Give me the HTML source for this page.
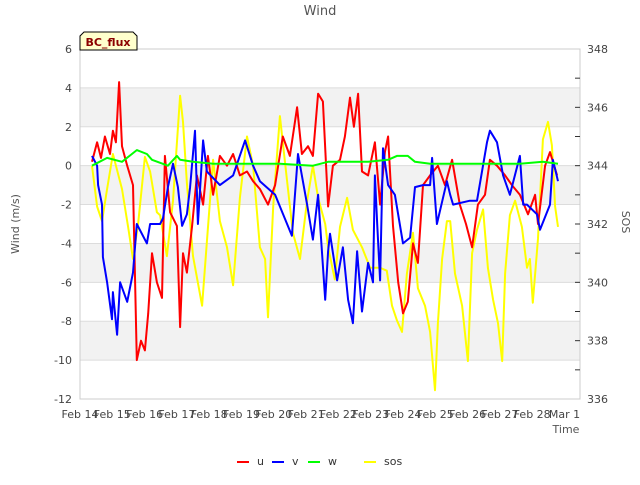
<!DOCTYPE html>
<html><head><meta charset="utf-8"><style>
body{margin:0;background:#fff;font-family:"Liberation Sans","DejaVu Sans",sans-serif}
svg text{font-family:"DejaVu Sans","Liberation Sans",sans-serif}
</style></head><body>
<svg id="chart" width="640" height="480" viewBox="0 0 640 480" xmlns="http://www.w3.org/2000/svg">
<rect width="640" height="480" fill="#fff"/>
<text x="320" y="15" text-anchor="middle" font-size="13" fill="#555">Wind</text>
<g id="bands"></g><g id="grid"></g>
<rect x="80" y="49" width="500" height="350" fill="none" stroke="#ccc"/>
<g id="series"></g><g id="axes"></g>
<g>
<path d="M80,50 L80,36 L84,32 L133,32 L137,36 L137,50 Z" fill="#ffffcc" stroke="#000" stroke-width="1"/>
<text x="108" y="46" text-anchor="middle" font-size="11" font-weight="bold" fill="#8b0000">BC_flux</text>
</g>
<text transform="translate(19,224) rotate(-90)" text-anchor="middle" font-size="11" fill="#555">Wind (m/s)</text>
<text transform="translate(622,222) rotate(90)" text-anchor="middle" font-size="11" fill="#555">SOS</text>
<text x="566" y="433" text-anchor="middle" font-size="11" fill="#555">Time</text>
<g id="legend"></g>
</svg>
<script>
const xTickLabels=["Feb 14","Feb 15","Feb 16","Feb 17","Feb 18","Feb 19","Feb 20","Feb 21","Feb 22","Feb 23","Feb 24","Feb 25","Feb 26","Feb 27","Feb 28","Mar 1"];
const yTicks=[6,4,2,0,-2,-4,-6,-8,-10,-12];
const y2Ticks=[348,346,344,342,340,338,336];
const uT=[0.37,0.53,0.65,0.77,0.93,1.02,1.11,1.21,1.30,1.46,1.64,1.76,1.89,2.01,2.11,2.23,2.38,2.54,2.63,2.79,3.00,3.10,3.19,3.31,3.47,3.62,3.81,3.96,4.12,4.33,4.55,4.74,4.95,5.17,5.36,5.57,5.82,6.04,6.28,6.50,6.72,6.87,7.06,7.21,7.37,7.52,7.68,7.83,8.05,8.20,8.36,8.48,8.61,8.73,8.92,9.13,9.29,9.44,9.54,9.69,9.85,10.0,10.15,10.31,10.46,10.62,10.84,11.08,11.30,11.52,11.76,11.95,12.14,12.32,12.54,12.69,12.91,13.16,13.37,13.62,13.87,14.09,14.18,14.40,14.55,14.77];
const uV=[0.2,1.2,0.4,1.5,0.6,1.8,1.2,4.3,1.0,0.0,-1.0,-10.0,-9.0,-9.5,-7.6,-4.5,-6.0,-6.8,0.5,-2.4,-3.1,-8.3,-4.5,-5.5,-3.1,-0.5,-2.0,0.5,-1.5,0.5,0.0,0.6,-0.5,-0.3,-0.8,-1.2,-2.0,-1.0,1.5,0.5,3.0,0.6,1.0,0.5,3.7,3.3,-2.1,0.0,0.3,1.5,3.5,2.0,3.7,-0.3,-0.5,1.2,-2.0,0.7,1.5,-3.1,-6.0,-7.6,-7.0,-4.0,-5.0,-1.0,-0.5,0.0,-1.0,0.3,-2.0,-3.0,-4.2,-2.0,-1.5,0.3,0.0,-0.5,-1.0,-1.5,-2.5,-1.5,-3.0,0.0,0.7,-0.5];
const vT=[0.37,0.53,0.56,0.68,0.71,0.84,0.99,1.02,1.15,1.24,1.46,1.64,1.76,2.07,2.17,2.48,2.57,2.72,2.88,3.03,3.16,3.31,3.41,3.56,3.65,3.81,3.93,4.33,4.74,5.11,5.36,5.57,6.04,6.56,6.75,7.03,7.21,7.37,7.59,7.68,7.74,7.96,8.14,8.30,8.45,8.58,8.73,8.92,9.07,9.13,9.20,9.29,9.38,9.54,9.75,10.0,10.22,10.37,10.62,10.84,10.90,11.05,11.36,11.46,11.55,12.07,12.29,12.60,12.69,12.91,13.10,13.31,13.62,13.72,13.84,14.15,14.24,14.55,14.64,14.80];
const vV=[0.5,0.0,-1.0,-2.0,-4.7,-6.0,-7.9,-6.5,-8.7,-6.0,-7.0,-5.5,-3.0,-4.0,-3.0,-3.0,-2.7,-1.1,0.1,-1.1,-3.1,-2.5,-1.1,1.8,-3.0,1.3,-0.3,-1.0,-0.5,1.3,0.0,-0.8,-1.5,-3.6,0.6,-2.0,-3.8,-1.5,-6.9,-4.4,-3.5,-5.9,-4.2,-6.9,-8.1,-4.4,-7.5,-5.0,-6.0,-0.5,-3.0,-5.9,0.9,-1.0,-1.5,-4.0,-3.7,-1.1,-1.0,-1.0,0.4,-3.0,-0.8,-1.5,-2.0,-1.8,-1.8,1.2,1.8,1.2,-0.5,-1.5,0.5,-2.0,-2.0,-2.5,-3.3,-2.0,0.3,-0.8];
const wT=[0.37,0.84,1.30,1.76,2.07,2.23,2.72,3.00,3.10,3.50,4.12,5.17,6.19,7.21,7.68,8.20,8.92,9.54,9.81,10.15,10.37,10.84,11.52,12.14,12.91,13.62,14.33,14.80];
const wV=[0.0,0.4,0.2,0.8,0.6,0.3,0.0,0.5,0.3,0.2,0.1,0.1,0.1,0.0,0.2,0.2,0.2,0.3,0.5,0.5,0.2,0.1,0.1,0.1,0.1,0.1,0.2,0.1];
const sT=[0.37,0.53,0.68,0.84,1.02,1.30,1.49,1.64,1.80,2.01,2.17,2.38,2.48,2.69,2.88,3.10,3.19,3.31,3.50,3.78,3.93,4.12,4.33,4.55,4.74,4.95,5.17,5.36,5.57,5.73,5.82,5.98,6.19,6.41,6.59,6.81,7.03,7.21,7.37,7.59,7.68,7.74,7.89,8.05,8.27,8.45,8.73,8.98,9.29,9.50,9.66,9.81,9.97,10.12,10.31,10.46,10.68,10.84,10.99,11.08,11.21,11.36,11.46,11.61,11.83,12.01,12.14,12.29,12.48,12.63,12.79,12.94,13.07,13.16,13.31,13.47,13.68,13.84,13.93,14.02,14.18,14.33,14.49,14.61,14.71,14.80];
const sV=[344.0,342.6,342.1,343.2,344.4,343.2,341.9,340.8,342.0,344.3,343.8,342.4,342.3,340.9,342.8,346.4,345.5,343.4,340.9,339.2,341.4,344.2,342.1,341.2,339.9,342.9,345.0,344.0,341.2,340.8,338.8,342.6,345.7,343.5,341.7,340.8,342.8,344.0,342.9,342.0,341.2,340.9,340.1,341.9,342.9,341.8,341.2,340.5,340.5,340.4,339.2,338.7,338.3,340.3,341.7,339.8,339.2,338.3,336.3,338.6,340.8,342.1,342.1,340.3,339.2,337.3,341.0,341.8,342.5,340.5,339.4,338.6,337.3,340.3,342.3,342.8,341.9,340.5,340.8,339.3,341.5,344.9,345.5,344.7,342.6,341.9];
const NS='http://www.w3.org/2000/svg';
const X0=80,X1=580,Y0=49,Y1=399,DAYPX=32.3;
const xs=d=>X0+d*DAYPX;
const ys=v=>Y1-(v+12)/18*(Y1-Y0);
const ys2=v=>Y1-(v-336)/12*(Y1-Y0);
function mk(tag,attrs,parent){const e=document.createElementNS(NS,tag);for(const k in attrs)e.setAttribute(k,attrs[k]);parent.appendChild(e);return e;}
const bands=document.getElementById('bands'),grid=document.getElementById('grid'),axes=document.getElementById('axes'),series=document.getElementById('series'),legend=document.getElementById('legend');
[[4,2],[0,-2],[-4,-6],[-8,-10]].forEach(b=>{const r=mk('rect',{x:X0,y:ys(b[0]),width:X1-X0,height:ys(b[1])-ys(b[0]),fill:'#f2f2f2'},bands);

});
yTicks.forEach(v=>{const l=mk('line',{x1:X0,x2:X1,y1:ys(v),y2:ys(v),stroke:'#dcdcdc'},grid);


const t=mk('text',{x:72,y:ys(v)+4,'text-anchor':'end','font-size':'11',fill:'#444'},axes);t.textContent=v;

});
for(let s=337;s<348;s++){const l=mk('line',{x1:X1-5,x2:X1,y1:ys2(s),y2:ys2(s),stroke:'#333'},axes);

}
y2Ticks.forEach(v=>{const t=mk('text',{x:587,y:ys2(v)+4,'font-size':'11',fill:'#444'},axes);t.textContent=v;

});
xTickLabels.forEach((s,i)=>{const t=mk('text',{x:xs(i),y:418,'text-anchor':'middle','font-size':'11',fill:'#444'},axes);t.textContent=s;

});
function line(T,V,yf,color,name){const p=mk('polyline',{points:T.map((t,i)=>xs(t).toFixed(1)+','+yf(V[i]).toFixed(1)).join(' '),fill:'none',stroke:color,'stroke-width':'2','stroke-linejoin':'round'},series);

}
line(sT,sV,ys2,'#ffff00','sos-line');
line(uT,uV,ys,'#ff0000','u-line');
line(vT,vV,ys,'#0000ff','v-line');
line(wT,wV,ys,'#00ff00','w-line');
[['u','#ff0000',237],['v','#0000ff',272],['w','#00ff00',308],['sos','#ffff00',364]].forEach(e=>{const g=mk('g',{},legend);


mk('line',{x1:e[2],x2:e[2]+12,y1:462,y2:462,stroke:e[1],'stroke-width':'2'},g);
const t=mk('text',{x:e[2]+20,y:465,'font-size':'11',fill:'#333'},g);t.textContent=e[0];});
</script>
</body></html>
